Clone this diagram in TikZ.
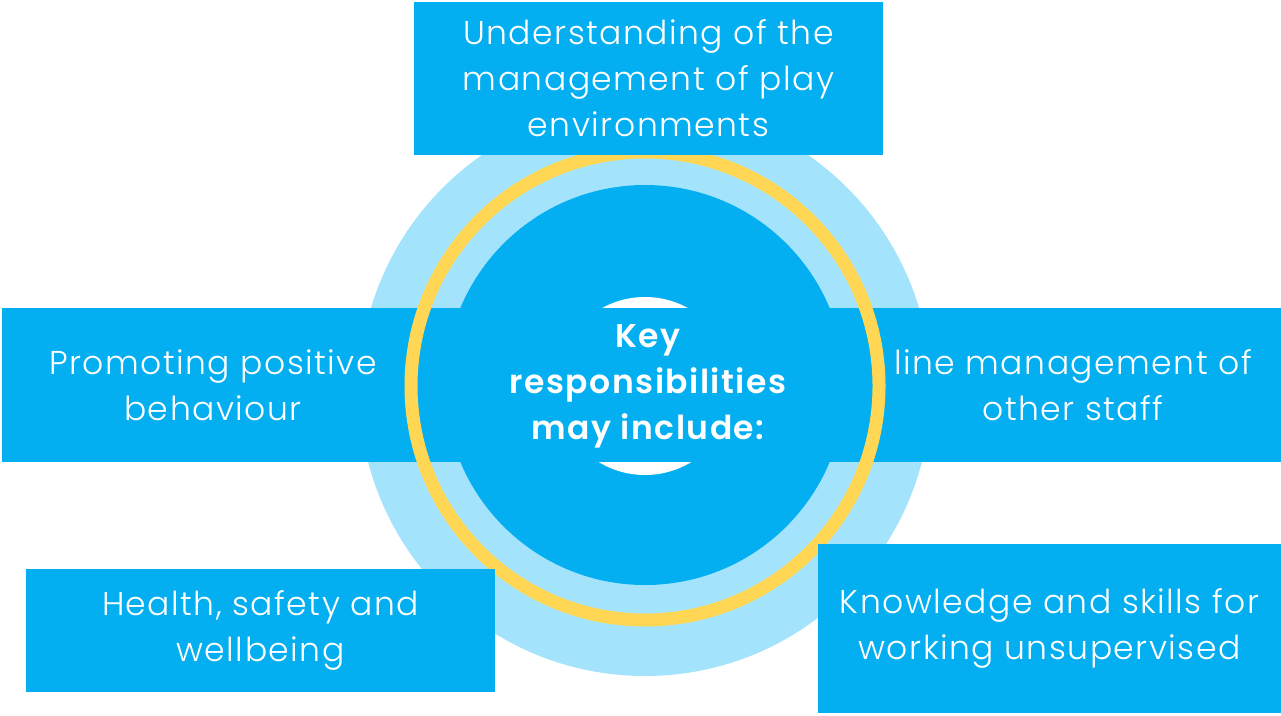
\documentclass[tikz,border=0pt]{standalone}
\usepackage{fontspec}
\IfFontExistsTF{Poppins Light}
  {\setmainfont{Poppins Light}[BoldFont=Poppins SemiBold, LetterSpace=4.5]}
  {\setmainfont{Poppins}[LetterSpace=4]}
\definecolor{boxblue}{RGB}{3,175,241}
\definecolor{paleblue}{RGB}{163,228,252}
\definecolor{ringyellow}{RGB}{255,215,85}
\tikzset{
  card/.style={fill=boxblue, text=white, align=center, inner sep=0pt,
    font=\fontsize{33}{46}\selectfont},
  hub/.style={text=white, align=center, inner sep=0pt,
    font=\fontsize{33}{46}\selectfont\bfseries}
}
\begin{document}
\begin{tikzpicture}[x=1pt, y=-1pt]
        \useasboundingbox (0,0) rectangle (1281,715);
        % rings
        \fill[paleblue] (645,390) circle (286);
        \fill[boxblue] (645,385) circle (200);
        \fill[white] (645,386) circle (89);
        % side cards and band
        \fill[boxblue] (424,308) rectangle (865,462);
        \node[card, minimum width=422pt, minimum height=154pt] (promote) at (213,385) {Promoting positive\\behaviour};
        \node[card, minimum width=416pt, minimum height=154pt] (linemgmt) at (1073,385) {line management of\\other staff};
        \draw[ringyellow, line width=13pt] (645,386) circle (234);
        % other cards
        \node[card, minimum width=469pt, minimum height=153pt] (playenv) at (648.5,78.5) {Understanding of the\\management of play\\environments};
        \node[card, minimum width=469pt, minimum height=123pt] (health) at (260.5,630.5) {Health, safety and\\wellbeing};
        \node[card, minimum width=463pt, minimum height=169pt] (knowledge) at (1049.5,628.5) {Knowledge and skills for\\working unsupervised};
        \node[hub] (key) at (648,386) {Key\\responsibilities\\may include:};
\end{tikzpicture}
\end{document}
